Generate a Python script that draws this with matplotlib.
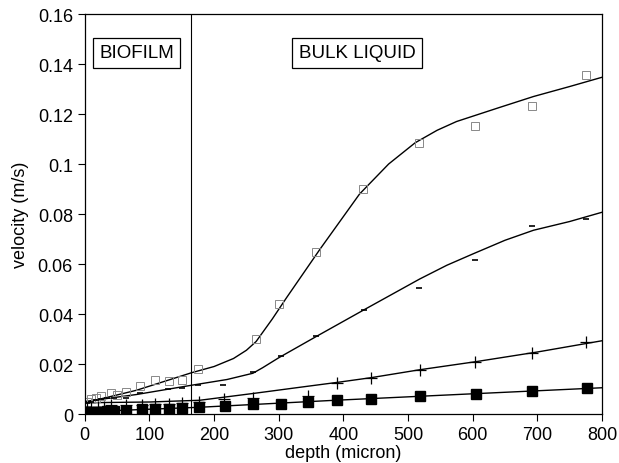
import numpy as np
import matplotlib
matplotlib.use('Agg')
import matplotlib.pyplot as plt
from matplotlib.ticker import FuncFormatter

plt.rcParams['font.family'] = ['Liberation Sans', 'DejaVu Sans']

# measured points (depth in micron, velocity in m/s)
depth_a = [3, 10, 18, 25, 40, 50, 64, 85, 108, 130, 150, 175, 265, 300, 358, 431, 517, 604, 691, 775]
vel_a = [0.005, 0.006, 0.0065, 0.0073, 0.0085, 0.0075, 0.009, 0.0113, 0.0137, 0.0133, 0.0135, 0.018,
         0.030, 0.044, 0.065, 0.090, 0.1085, 0.1151, 0.1233, 0.1355]

depth_b = [3, 10, 18, 25, 35, 45, 64, 85, 128, 150, 175, 214, 260, 303, 358, 432, 517, 604, 691, 775]
vel_b = [0.0045, 0.005, 0.0055, 0.006, 0.0065, 0.0065, 0.0064, 0.0084, 0.010, 0.0105, 0.0116, 0.0116,
         0.0167, 0.0231, 0.0311, 0.0417, 0.0503, 0.0617, 0.0753, 0.078]

depth_c = [3, 10, 20, 30, 40, 64, 88, 108, 130, 151, 176, 215, 260, 345, 390, 442, 518, 604, 691, 775]
vel_c = [0.0025, 0.0025, 0.003, 0.003, 0.0035, 0.0035, 0.0038, 0.004, 0.0042, 0.0045, 0.005, 0.006,
         0.0063, 0.0073, 0.0125, 0.0145, 0.0177, 0.0209, 0.0244, 0.0289]

depth_d = [0, 5, 10, 15, 20, 25, 30, 35, 40, 45, 63, 88, 108, 130, 151, 176, 217, 260, 304, 346,
           390, 442, 518, 605, 692, 777]
vel_d = [0.0008, 0.0008, 0.0009, 0.0009, 0.001, 0.001, 0.001, 0.0011, 0.0011, 0.0012, 0.0013, 0.002,
         0.0021, 0.002, 0.0025, 0.0028, 0.0034, 0.0041, 0.0042, 0.0048, 0.0056, 0.006, 0.0072, 0.008,
         0.0092, 0.0104]

# fitted curves
fit_a_x = [0, 80, 165, 200, 230, 250, 265, 290, 312, 364, 425, 470, 511, 545, 575, 640, 694, 750, 800]
fit_a_y = [0.0045, 0.0095, 0.0165, 0.019, 0.0222, 0.0255, 0.029, 0.038, 0.0465, 0.066, 0.088, 0.100,
           0.1085, 0.1135, 0.117, 0.1225, 0.127, 0.131, 0.1347]
fit_b_x = [0, 80, 165, 220, 260, 275, 300, 358, 432, 518, 560, 600, 650, 694, 750, 800]
fit_b_y = [0.005, 0.0078, 0.0115, 0.0138, 0.0163, 0.0185, 0.0225, 0.031, 0.0417, 0.054, 0.0595,
           0.064, 0.0695, 0.0735, 0.077, 0.0807]
fit_c_x = [0, 100, 178, 260, 333, 392, 442, 518, 604, 700, 800]
fit_c_y = [0.0045, 0.0048, 0.0055, 0.0082, 0.0107, 0.0127, 0.0145, 0.0177, 0.0209, 0.0248, 0.0293]
fit_d_x = [0, 178, 380, 593, 800]
fit_d_y = [0.0009, 0.0027, 0.0054, 0.008, 0.0105]

biofilm_edge = 165

fig = plt.figure(figsize=(6.19, 4.64), dpi=100)
ax = fig.add_axes([0.137, 0.1056, 0.8355, 0.862])

for fx, fy in [(fit_a_x, fit_a_y), (fit_b_x, fit_b_y), (fit_c_x, fit_c_y), (fit_d_x, fit_d_y)]:
    ax.plot(fx, fy, color='black', lw=1.0)

ax.plot(depth_a, vel_a, ls='none', marker='s', ms=6, mfc='none', mec='#888888', mew=0.7)
ax.plot(depth_b, vel_b, ls='none', marker='_', ms=4, mec='black', mew=1.2)
ax.plot(depth_c, vel_c, ls='none', marker='+', ms=8, mec='black', mew=0.9)
ax.plot(depth_d, vel_d, ls='none', marker='s', ms=7.5, mfc='black', mec='black')

ax.axvline(biofilm_edge, color='black', lw=0.8)

box = dict(boxstyle='square,pad=0.35', fc='white', ec='black', lw=0.9)
ax.text(80, 0.1445, 'BIOFILM', fontsize=13.5, ha='center', va='center', bbox=box)
ax.text(421, 0.1445, 'BULK LIQUID', fontsize=13.5, ha='center', va='center', bbox=box)

ax.set_xlim(0, 800)
ax.set_ylim(0, 0.16)
ax.set_xticks(range(0, 801, 100))
ax.set_yticks(np.arange(0, 0.161, 0.02))
ax.yaxis.set_major_formatter(FuncFormatter(lambda v, p: '%g' % round(v, 2)))
ax.tick_params(direction='out', length=5, width=0.8, labelsize=13)
ax.set_xlabel('depth (micron)', fontsize=13, labelpad=1)
ax.set_ylabel('velocity (m/s)', fontsize=13, labelpad=6)
for s in ax.spines.values():
    s.set_linewidth(0.9)

fig.savefig('out.png', dpi=100)
